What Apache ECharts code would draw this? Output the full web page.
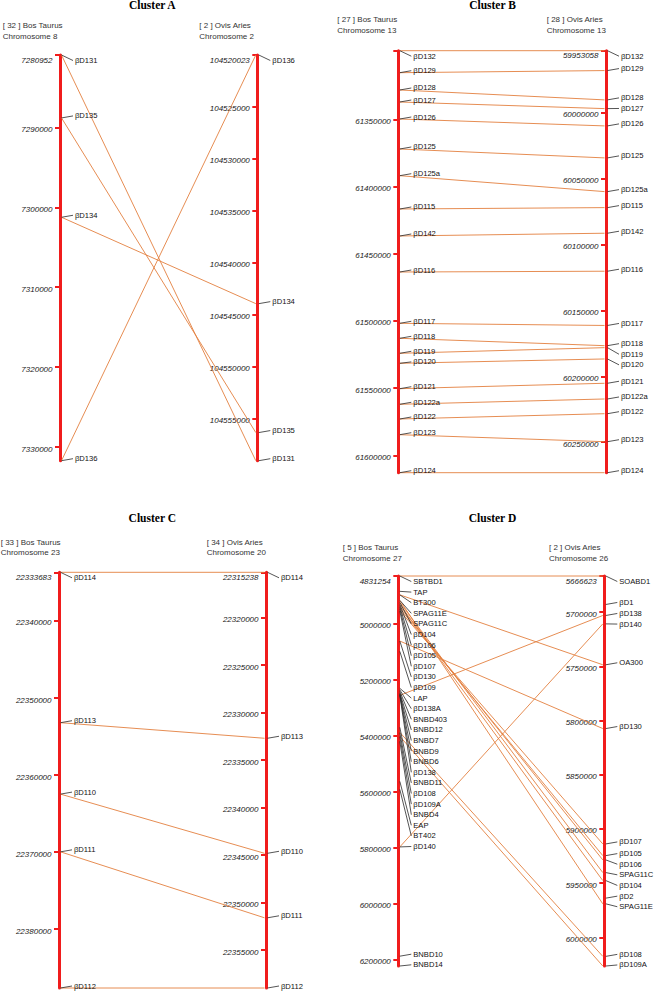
<!DOCTYPE html>
<html><head><meta charset="utf-8">
<script src="https://cdn.jsdelivr.net/npm/echarts@6/dist/echarts.min.js"></script>
<style>html,body{margin:0;padding:0;background:#fff}#c{width:655px;height:991px}</style>
</head><body><div id="c"></div>
<script>
// ---------- Cluster A ----------
const aLeftGenes = ['βD131','βD135','βD134','βD136'];
const aLeftPos = [7280952, 7288824, 7301250, 7331700];
const aRightGenes = ['βD136','βD134','βD135','βD131'];
const aRightPos = [104520023, 104543930, 104556325, 104559030];
const aLinksLeft = ['βD131','βD135','βD134','βD136'];
const aLinksRight = ['βD131','βD135','βD134','βD136'];
const aLeftTicks = [7280952, 7290000, 7300000, 7310000, 7320000, 7330000];
const aRightTicks = [104520023, 104525000, 104530000, 104535000, 104540000, 104545000, 104550000, 104555000];

// ---------- Cluster B ----------
const bLeftGenes = ['βD132','βD129','βD128','βD127','βD126','βD125','βD125a','βD115','βD142','βD116','βD117','βD118','βD119','βD120','βD121','βD122a','βD122','βD123','βD124'];
const bLeftPos = [61298960, 61315327, 61328200, 61337130, 61349780, 61372100, 61391960, 61416740, 61436830, 61463620, 61501790, 61512950, 61524110, 61531550, 61550450, 61562050, 61572990, 61584670, 61612950];
const bRightGenes = ['βD132','βD129','βD128','βD127','βD126','βD125','βD125a','βD115','βD142','βD116','βD117','βD118','βD119','βD120','βD121','βD122a','βD122','βD123','βD124'];
const bRightPos = [59953058, 59968130, 59990360, 59996970, 60010090, 60034370, 60059940, 60072080, 60091500, 60120330, 60161460, 60176780, 60178300, 60186870, 60205310, 60217220, 60228380, 60249620, 60273140];
const bLinksLeft = bLeftGenes.slice();
const bLinksRight = bLeftGenes.slice();
const bLeftTicks = [61298960, 61350000, 61400000, 61450000, 61500000, 61550000, 61600000];
const bLeftTickLabels = [61350000, 61400000, 61450000, 61500000, 61550000, 61600000];
const bRightTicks = [59953058, 60000000, 60050000, 60100000, 60150000, 60200000, 60250000];

// ---------- Cluster C ----------
const cLeftGenes = ['βD114','βD113','βD110','βD111','βD112'];
const cLeftPos = [22333683, 22353200, 22362470, 22369960, 22387630];
const cRightGenes = ['βD114','βD113','βD110','βD111','βD112'];
const cRightPos = [22315238, 22332710, 22344820, 22351610, 22359000];
const cLinksLeft = ['βD114','βD113','βD110','βD111','βD112'];
const cLinksRight = ['βD114','βD113','βD110','βD111','βD112'];
const cLeftTicks = [22333683, 22340000, 22350000, 22360000, 22370000, 22380000];
const cRightTicks = [22315238, 22320000, 22325000, 22330000, 22335000, 22340000, 22345000, 22350000, 22355000];

// ---------- Cluster D ----------
const dLeftGenes = ['SBTBD1','TAP','BT300','SPAG11E','SPAG11C','βD104','βD106','βD105','βD107','βD130','βD109','LAP','βD138A','BNBD403','BNBD12','BNBD7','BNBD9','BNBD6','βD138','BNBD11','βD108','βD109A','BNBD4','EAP','BT402','βD140','BNBD10','BNBD14'];
const dLeftPos = [4831254, 4885920, 4898400, 4918000, 4925130, 4932260, 4939390, 4946520, 4955440, 5063100, 5099800, 5231700, 5237080, 5242430, 5247770, 5251340, 5253120, 5254900, 5256700, 5370770, 5388600, 5402850, 5420680, 5563280, 5591800, 5797000, 6186450, 6221400];
const dRightGenes = ['SOABD1','βD1','βD138','βD140','OA300','βD130','βD107','βD105','βD106','SPAG11C','βD104','βD2','SPAG11E','βD108','βD109A'];
const dRightPos = [5666623, 5692900, 5703040, 5710800, 5748530, 5807370, 5913820, 5924600, 5928560, 5940260, 5947630, 5963840, 5969090, 6017550, 6026440];
const dLinksLeft = ['SBTBD1','BT300','SPAG11E','SPAG11C','βD104','βD106','βD105','βD107','βD130','βD138','βD140','βD108','βD109A'];
const dLinksRight = ['SOABD1','OA300','SPAG11E','SPAG11C','βD104','βD106','βD105','βD107','βD130','βD138','βD140','βD108','βD109A'];
const dLeftTicks = [4831254, 5000000, 5200000, 5400000, 5600000, 5800000, 6000000, 6200000];
const dRightTicks = [5666623, 5700000, 5750000, 5800000, 5850000, 5900000, 5950000, 6000000];

// ---------- Texts ----------
const clusterTitles = ['Cluster A', 'Cluster B', 'Cluster C', 'Cluster D'];
const leftSpecies = ['[ 32 ] Bos Taurus\nChromosome 8', '[ 27 ] Bos Taurus\nChromosome 13', '[ 33 ] Bos Taurus\nChromosome 23', '[ 5 ] Bos Taurus\nChromosome 27'];
const rightSpecies = ['[ 2 ] Ovis Aries\nChromosome 2', '[ 28 ] Ovis Aries\nChromosome 13', '[ 34 ] Ovis Aries\nChromosome 20', '[ 2 ] Ovis Aries\nChromosome 26'];

// ---------- Layout / style ----------
const RED = '#f01c1c';
const LINK = '#e3803f';
const LEADER = '#2a2a2a';
const SPACING = 10.6;
const layout = [
  { grid: {left: 60, top: 55, width: 197.3, height: 405.7}, title: [152.3, -1], ls: [2.7, 20.6], rs: [199.3, 20.6] },
  { grid: {left: 398.3, top: 50.7, width: 207.7, height: 422}, title: [492.5, -1], ls: [337.3, 14.6], rs: [546.7, 14.6] },
  { grid: {left: 59, top: 572.3, width: 207, height: 415.7}, title: [152.3, 511.5], ls: [0.7, 536.9], rs: [206.7, 536.9] },
  { grid: {left: 398.3, top: 576, width: 206, height: 390}, title: [492.5, 511.5], ls: [342.7, 542.3], rs: [549, 542.3] }
];

const clusters = [
  {lg: aLeftGenes, lp: aLeftPos, rg: aRightGenes, rp: aRightPos, kl: aLinksLeft, kr: aLinksRight, lt: aLeftTicks, ltl: aLeftTicks, rt: aRightTicks},
  {lg: bLeftGenes, lp: bLeftPos, rg: bRightGenes, rp: bRightPos, kl: bLinksLeft, kr: bLinksRight, lt: bLeftTicks, ltl: bLeftTickLabels, rt: bRightTicks},
  {lg: cLeftGenes, lp: cLeftPos, rg: cRightGenes, rp: cRightPos, kl: cLinksLeft, kr: cLinksRight, lt: cLeftTicks, ltl: cLeftTicks, rt: cRightTicks},
  {lg: dLeftGenes, lp: dLeftPos, rg: dRightGenes, rp: dRightPos, kl: dLinksLeft, kr: dLinksRight, lt: dLeftTicks, ltl: dLeftTicks, rt: dRightTicks}
];

function labelYs(markers, top) {
  const out = []; let prev = -Infinity;
  markers.forEach(m => { const y = Math.max(m - 2, top + 5.5, prev + SPACING); out.push(y); prev = y; });
  return out;
}

function makeRender(cl) {
  return function (params, api) {
    const Lmin = cl.lp[0], Lmax = cl.lp[cl.lp.length - 1];
    const Rmin = cl.rp[0], Rmax = cl.rp[cl.rp.length - 1];
    const toL = rv => Lmin + (rv - Rmin) / (Rmax - Rmin) * (Lmax - Lmin);
    const lpx = v => api.coord([0, v]);
    const rpx = v => api.coord([1, toL(v)]);
    const children = [];
    // links
    cl.kl.forEach((ln, i) => {
      const a = lpx(cl.lp[cl.lg.indexOf(ln)]);
      const b = rpx(cl.rp[cl.rg.indexOf(cl.kr[i])]);
      children.push({type: 'line', shape: {x1: a[0] + 1.5, y1: a[1], x2: b[0] - 1.5, y2: b[1]},
        style: {stroke: LINK, lineWidth: 0.9}});
    });
    // labels on both sides
    [[cl.lg, cl.lp.map(lpx)], [cl.rg, cl.rp.map(rpx)]].forEach(([names, pts]) => {
      const top = pts[0][1];
      const ys = labelYs(pts.map(p => p[1]), top);
      names.forEach((nm, i) => {
        const x = pts[i][0], my = pts[i][1], ly = ys[i];
        children.push({type: 'line', shape: {x1: x + 1.5, y1: my, x2: x + 13, y2: ly},
          style: {stroke: LEADER, lineWidth: 0.8}});
        children.push({type: 'text', x: x + 15, y: ly,
          style: {text: nm, fill: '#111', fontSize: 7.6, fontFamily: 'Liberation Sans, Arial, sans-serif',
            align: 'left', verticalAlign: 'middle'}});
      });
    });
    return {type: 'group', children};
  };
}

function yAx(k, side, min, max, ticks, labels) {
  return {
    type: 'value', gridIndex: k, position: side, inverse: true, min: min, max: max,
    axisLine: {show: true, onZero: false, lineStyle: {color: RED, width: 3}},
    axisTick: {show: true, inside: side === 'right', length: 5, customValues: ticks, lineStyle: {color: RED, width: 2}},
    axisLabel: {show: true, inside: side === 'right', margin: 7.5, customValues: labels,
      formatter: v => (v === min ? '{m|' + v + '}' : '{n|' + v + '}'),
      rich: {
        m: {fontSize: 8, fontStyle: 'italic', color: '#1a1a1a', fontFamily: 'Liberation Sans, Arial, sans-serif', padding: [10, 0, 0, 0]},
        n: {fontSize: 8, fontStyle: 'italic', color: '#1a1a1a', fontFamily: 'Liberation Sans, Arial, sans-serif', padding: [4, 0, 0, 0]}
      }},
    splitLine: {show: false}
  };
}

const option = {
  backgroundColor: '#fff',
  animation: false,
  title: [],
  grid: [], xAxis: [], yAxis: [], series: []
};

clusters.forEach((cl, k) => {
  const L = layout[k];
  option.grid.push(Object.assign({containLabel: false}, L.grid));
  option.xAxis.push({type: 'value', gridIndex: k, min: 0, max: 1, show: false});
  option.yAxis.push(yAx(k, 'left', cl.lp[0], cl.lp[cl.lp.length - 1], cl.lt, cl.ltl));
  option.yAxis.push(yAx(k, 'right', cl.rp[0], cl.rp[cl.rp.length - 1], cl.rt, cl.rt));
  option.series.push({type: 'custom', xAxisIndex: k, yAxisIndex: 2 * k, silent: true, clip: false, z: 3,
    data: [[0, cl.lp[0]]], renderItem: makeRender(cl)});
  option.title.push({text: clusterTitles[k], left: L.title[0], top: L.title[1], textAlign: 'center', padding: 0,
    textStyle: {fontFamily: 'Liberation Serif, Times New Roman, serif', fontWeight: 'bold', fontSize: 11.5, color: '#000'}});
  option.title.push({text: leftSpecies[k], left: L.ls[0], top: L.ls[1], padding: 0,
    textStyle: {fontFamily: 'Liberation Sans, Arial, sans-serif', fontWeight: 'normal', fontSize: 8, lineHeight: 10.7, color: '#333'}});
  option.title.push({text: rightSpecies[k], left: L.rs[0], top: L.rs[1], padding: 0,
    textStyle: {fontFamily: 'Liberation Sans, Arial, sans-serif', fontWeight: 'normal', fontSize: 8, lineHeight: 10.7, color: '#333'}});
});

const chart = echarts.init(document.getElementById('c'), null, {renderer: 'svg'});
chart.setOption(option);
</script>
</body></html>
